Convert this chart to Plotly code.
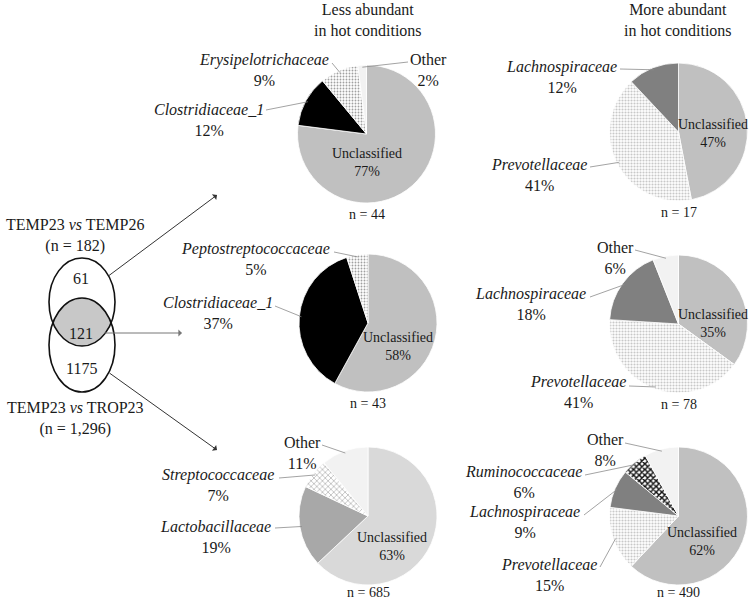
import math
import plotly.graph_objects as go

# ---------------- data ----------------
tl_labels = ["Unclassified", "Clostridiaceae_1", "Erysipelotrichaceae", "Other"]
tl_values = [77, 12, 9, 2]
tr_labels = ["Unclassified", "Prevotellaceae", "Lachnospiraceae"]
tr_values = [47, 41, 12]
ml_labels = ["Unclassified", "Clostridiaceae_1", "Peptostreptococcaceae"]
ml_values = [58, 37, 5]
mr_labels = ["Unclassified", "Prevotellaceae", "Lachnospiraceae", "Other"]
mr_values = [35, 41, 18, 6]
bl_labels = ["Unclassified", "Lactobacillaceae", "Streptococcaceae", "Other"]
bl_values = [63, 19, 7, 11]
br_labels = ["Unclassified", "Prevotellaceae", "Lachnospiraceae", "Ruminococcaceae", "Other"]
br_values = [62, 15, 9, 6, 8]
pie_n = {"tl": 44, "tr": 17, "ml": 43, "mr": 78, "bl": 685, "br": 490}
venn_counts = [61, 121, 1175]
venn_titles = ["TEMP23 <i>vs</i> TEMP26<br>(n = 182)", "TEMP23 <i>vs</i> TROP23<br>(n = 1,296)"]
col_titles = ["Less abundant<br>in hot conditions", "More abundant<br>in hot conditions"]

# ---------------- styles ----------------
W, H = 750, 602
FONT = "Liberation Serif"
TXT = "#1a1a1a"
R = 69

styles = {
    "Unclassified": dict(color="#c0c0c0", shape="", fg="#c0c0c0", size=4, sol=0.3),
    "Clostridiaceae_1": dict(color="#000000", shape="", fg="#000000", size=4, sol=0.3),
    "Erysipelotrichaceae": dict(color="#ffffff", shape=".", fg="#a0a0a0", size=3, sol=0.3),
    "Peptostreptococcaceae": dict(color="#ffffff", shape=".", fg="#a0a0a0", size=3, sol=0.3),
    "Other": dict(color="#f2f2f2", shape="", fg="#f2f2f2", size=4, sol=0.3),
    "Lachnospiraceae": dict(color="#808080", shape="", fg="#808080", size=4, sol=0.3),
    "Prevotellaceae": dict(color="#ffffff", shape=".", fg="#c8c8c8", size=3, sol=0.4),
    "Ruminococcaceae": dict(color="#ffffff", shape="x", fg="#111111", size=4, sol=0.6),
    "Streptococcaceae": dict(color="#ffffff", shape="x", fg="#a8a8a8", size=4, sol=0.3),
    "Lactobacillaceae": dict(color="#a8a8a8", shape="", fg="#a8a8a8", size=4, sol=0.3),
}

pies = [
    dict(key="tl", labels=tl_labels, values=tl_values, c=(366.5, 134), unc_col="#c0c0c0",
         inside=(367, 162),
         lab={"Clostridiaceae_1": (209, 110, 266, 110), "Erysipelotrichaceae": (264, 60, 332, 63),
              "Other": (428, 60, 408, 62)}),
    dict(key="tr", labels=tr_labels, values=tr_values, c=(678.5, 132), unc_col="#c0c0c0",
         inside=(713, 133),
         lab={"Prevotellaceae": (539, 165, 590, 167), "Lachnospiraceae": (561, 67, 620, 69)}),
    dict(key="ml", labels=ml_labels, values=ml_values, c=(368, 323), unc_col="#c0c0c0",
         inside=(398, 346),
         lab={"Clostridiaceae_1": (218, 303, 275, 306), "Peptostreptococcaceae": (255, 249, 334, 252)}),
    dict(key="mr", labels=mr_labels, values=mr_values, c=(678.5, 324), unc_col="#c0c0c0",
         inside=(713, 323),
         lab={"Prevotellaceae": (578, 382, 629, 386), "Lachnospiraceae": (530, 294, 590, 297),
              "Other": (615, 248, 635, 250)}),
    dict(key="bl", labels=bl_labels, values=bl_values, c=(368, 516), unc_col="#d9d9d9",
         inside=(392, 546),
         lab={"Lactobacillaceae": (215, 527, 275, 528), "Streptococcaceae": (218, 475, 279, 478),
              "Other": (302, 443, 322, 445)}),
    dict(key="br", labels=br_labels, values=br_values, c=(678.5, 516), unc_col="#c0c0c0",
         inside=(702, 541),
         lab={"Prevotellaceae": (549, 565, 600, 567), "Lachnospiraceae": (524, 512, 584, 515),
              "Ruminococcaceae": (523, 472, 585, 475), "Other": (605, 440, 625, 443)}),
]

fig = go.Figure()
shapes = []
annotations = []

for p in pies:
    cx, cy = p["c"]
    cols, shp, fgs, sizes, sols = [], [], [], [], []
    for lab in p["labels"]:
        s = styles[lab]
        col = p["unc_col"] if lab == "Unclassified" else s["color"]
        cols.append(col)
        shp.append(s["shape"])
        fgs.append(p["unc_col"] if lab == "Unclassified" else s["fg"])
        sizes.append(s["size"])
        sols.append(s["sol"])
    fig.add_trace(go.Pie(
        labels=p["labels"], values=p["values"], sort=False, direction="clockwise", rotation=0,
        textinfo="none", hoverinfo="label+percent", showlegend=False,
        marker=dict(colors=cols, line=dict(color="white", width=0.8),
                    pattern=dict(shape=shp, fgcolor=fgs, bgcolor=cols, size=sizes, solidity=sols)),
        domain=dict(x=[(cx - R) / W, (cx + R) / W], y=[1 - (cy + R) / H, 1 - (cy - R) / H]),
    ))
    total = sum(p["values"])
    cum = 0
    for lab, v in zip(p["labels"], p["values"]):
        mid = (cum + v / 2) / total * 2 * math.pi
        cum += v
        pct = f"{round(v / total * 100)}%"
        if lab == "Unclassified":
            ix, iy = p["inside"]
            annotations.append(dict(x=ix, y=iy, xref="x", yref="y", showarrow=False,
                                    text=f"Unclassified<br>{pct}",
                                    font=dict(family=FONT, size=14, color=TXT)))
            continue
        tx, ty, lx, ly = p["lab"][lab]
        name = lab if lab == "Other" else f"<i>{lab}</i>"
        annotations.append(dict(x=tx, y=ty + 10, xref="x", yref="y", showarrow=False,
                                text=f"{name}<br>{pct}",
                                font=dict(family=FONT, size=16, color=TXT)))
        ex = cx + 0.97 * R * math.sin(mid)
        ey = cy - 0.97 * R * math.cos(mid)
        shapes.append(dict(type="line", xref="x", yref="y", x0=lx, y0=ly, x1=ex, y1=ey,
                           line=dict(color="#8c8c8c", width=0.8)))
    annotations.append(dict(x=cx, y=min(cy + R + 11, H - 10), xref="x", yref="y", showarrow=False,
                            text=f"n = {pie_n[p['key']]}",
                            font=dict(family=FONT, size=14, color=TXT)))

for t, x in zip(col_titles, [368, 678]):
    annotations.append(dict(x=x, y=20, xref="x", yref="y", showarrow=False, text=t,
                            font=dict(family=FONT, size=16, color=TXT)))

# ---------------- Venn ----------------
e1 = dict(cx=82, cy=302, rx=33, ry=44)
e2 = dict(cx=82, cy=345, rx=33, ry=47)
yi = (e2["ry"] * e1["cy"] + e1["ry"] * e2["cy"]) / (e1["ry"] + e2["ry"])
t1 = math.asin((yi - e1["cy"]) / e1["ry"])
s1 = math.asin((yi - e2["cy"]) / e2["ry"])
pts = []
N = 40
for i in range(N + 1):
    t = t1 + (math.pi - 2 * t1) * i / N
    pts.append((e1["cx"] + e1["rx"] * math.cos(t), e1["cy"] + e1["ry"] * math.sin(t)))
sa = math.pi - s1
sb = 2 * math.pi + s1
for i in range(N + 1):
    s = sa + (sb - sa) * i / N
    pts.append((e2["cx"] + e2["rx"] * math.cos(s), e2["cy"] + e2["ry"] * math.sin(s)))
path = "M " + " L ".join(f"{x:.2f},{y:.2f}" for x, y in pts) + " Z"
shapes.append(dict(type="path", xref="x", yref="y", path=path, fillcolor="#c8c8c8",
                   line=dict(width=0)))
for e in (e1, e2):
    shapes.append(dict(type="circle", xref="x", yref="y",
                       x0=e["cx"] - e["rx"], x1=e["cx"] + e["rx"],
                       y0=e["cy"] - e["ry"], y1=e["cy"] + e["ry"],
                       line=dict(color="#111111", width=1.6)))

for cnt, y in zip(venn_counts, [278, 333, 368]):
    annotations.append(dict(x=81, y=y, xref="x", yref="y", showarrow=False, text=str(cnt),
                            font=dict(family=FONT, size=16, color=TXT)))
for t, y in zip(venn_titles, [235, 418]):
    annotations.append(dict(x=75, y=y, xref="x", yref="y", showarrow=False, text=t,
                            font=dict(family=FONT, size=16, color=TXT)))

arrows = [((107, 277), (217, 195), "#333333"), ((103, 333), (182, 333), "#777777"),
          ((108, 372), (217, 450), "#333333")]
for (x0, y0), (x1, y1), c in arrows:
    annotations.append(dict(x=x1, y=y1, ax=x0, ay=y0, xref="x", yref="y", axref="x", ayref="y",
                            showarrow=True, arrowhead=1, arrowsize=1.2, arrowwidth=1,
                            arrowcolor=c, text=""))

fig.update_layout(
    width=W, height=H, margin=dict(l=0, r=0, t=0, b=0),
    paper_bgcolor="white", plot_bgcolor="white",
    xaxis=dict(range=[0, W], visible=False, domain=[0, 1], fixedrange=True),
    yaxis=dict(range=[H, 0], visible=False, domain=[0, 1], fixedrange=True),
    shapes=shapes, annotations=annotations,
)
fig.write_html("out.html", config={"displayModeBar": False},
               post_script="document.body.style.margin='0px';document.body.style.overflow='hidden';")
